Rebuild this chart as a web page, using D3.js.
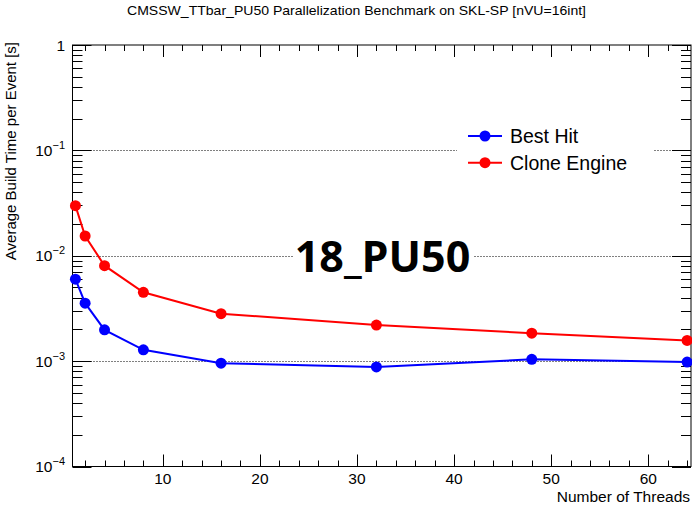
<!DOCTYPE html>
<html><head><meta charset="utf-8">
<script src="https://cdn.jsdelivr.net/npm/d3@7"></script>
<style>
body{margin:0;background:#fff;}
svg{display:block;font-family:"Liberation Sans",Arial,sans-serif;}
</style></head>
<body><svg id="c" width="692" height="505"></svg>
<script>
const threads = [1, 2, 4, 8, 16, 32, 48, 64];
const bestHit = [6.0e-3, 3.55e-3, 1.98e-3, 1.28e-3, 9.55e-4, 8.8e-4, 1.04e-3, 9.8e-4];
const cloneEngine = [2.99e-2, 1.54e-2, 8.05e-3, 4.5e-3, 2.82e-3, 2.2e-3, 1.84e-3, 1.57e-3];
const seriesNames = ["Best Hit", "Clone Engine"];
const seriesColors = ["#0000ff", "#ff0000"];
const xTicks = [10, 20, 30, 40, 50, 60];
const yDecades = [-4, -3, -2, -1, 0];
const title = "CMSSW_TTbar_PU50 Parallelization Benchmark on SKL-SP [nVU=16int]";
const annotation = "18_PU50";

const svg = d3.select("#c");
const L = 72.5, R = 691, T = 45, B = 466.5;
const x = d3.scaleLinear().domain([0.7, 64.4]).range([L, R]);
const y = d3.scaleLog().domain([1e-4, 1]).range([B, T]);

// grid
const grid = svg.append("g");
[1e-3, 1e-2, 1e-1].forEach(v => {
  const py = Math.round(y(v)) + 0.5;
  grid.append("line").attr("x1", L).attr("x2", R).attr("y1", py).attr("y2", py)
    .attr("stroke", "#000").attr("stroke-width", 1).attr("stroke-dasharray", "1,2");
});

// legend background
svg.append("rect").attr("x", 457).attr("y", 122).attr("width", 196).attr("height", 56).attr("fill", "#fff");

// frame
svg.append("rect").attr("x", L).attr("y", T).attr("width", R - L).attr("height", B - T)
  .attr("fill", "none").attr("stroke", "#000").attr("stroke-width", 1);

const ticks = svg.append("g").attr("stroke", "#000").attr("stroke-width", 1);
for (let v = 2; v <= 64; v += 2) {
  const major = v % 10 === 0;
  const len = major ? 12 : 6;
  const px = Math.round(x(v)) + 0.5;
  ticks.append("line").attr("x1", px).attr("x2", px).attr("y1", B).attr("y2", B - len);
  ticks.append("line").attr("x1", px).attr("x2", px).attr("y1", T).attr("y2", T + len);
}
yDecades.forEach(d => {
  for (let m = 1; m <= 9; m++) {
    const v = m * Math.pow(10, d);
    if (v > 1) break;
    const major = m === 1;
    const len = major ? 19 : 10;
    const py = Math.round(y(v)) + 0.5;
    ticks.append("line").attr("x1", L).attr("x2", L + len).attr("y1", py).attr("y2", py);
    ticks.append("line").attr("x1", R).attr("x2", R - len).attr("y1", py).attr("y2", py);
  }
});

// x tick labels
svg.append("g").selectAll("text").data(xTicks).join("text")
  .attr("x", d => x(d)).attr("y", 483.5).attr("text-anchor", "middle")
  .attr("font-size", 15.5).text(d => d);

// y tick labels
const yl = svg.append("g");
yDecades.forEach(d => {
  const t = yl.append("text").attr("x", 65).attr("y", y(Math.pow(10, d)) + 5.5)
    .attr("text-anchor", "end").attr("font-size", 15.5);
  if (d === 0) { t.text("1"); }
  else {
    t.append("tspan").text("10");
    t.append("tspan").attr("dy", -7).attr("font-size", 11).text("\u2212" + (-d));
  }
});

// axis titles
svg.append("text").attr("x", 690).attr("y", 501.5).attr("text-anchor", "end")
  .attr("font-size", 15.5).text("Number of Threads");
svg.append("text").attr("transform", "translate(16,42) rotate(-90)").attr("text-anchor", "end")
  .attr("font-size", 15).text("Average Build Time per Event [s]");
svg.append("text").attr("x", 127).attr("y", 15)
  .attr("font-size", 13.5).attr("textLength", 459).attr("lengthAdjust", "spacingAndGlyphs").text(title);

// annotation
const ann = svg.append("g");
ann.append("rect").attr("x", 293).attr("y", 240).attr("width", 180).attr("height", 32).attr("fill", "#fff");
ann.append("text").attr("x", 382.5).attr("y", 271.5).attr("text-anchor", "middle")
  .attr("font-family", "'Open Sans', sans-serif").attr("font-weight", "bold")
  .attr("font-size", 43).text(annotation);

// series
const series = [bestHit, cloneEngine];
const line = d3.line().x((d, i) => x(threads[i])).y(d => y(d));
series.forEach((vals, si) => {
  svg.append("path").datum(vals).attr("d", line).attr("fill", "none")
    .attr("stroke", seriesColors[si]).attr("stroke-width", 2);
  svg.append("g").selectAll("circle").data(vals).join("circle")
    .attr("cx", (d, i) => x(threads[i])).attr("cy", d => y(d)).attr("r", 5.5)
    .attr("fill", seriesColors[si]);
});

// legend
const legY = [136, 162.7];
seriesNames.forEach((n, i) => {
  svg.append("line").attr("x1", 468).attr("x2", 502).attr("y1", legY[i]).attr("y2", legY[i])
    .attr("stroke", seriesColors[i]).attr("stroke-width", 2);
  svg.append("circle").attr("cx", 485).attr("cy", legY[i]).attr("r", 5.5).attr("fill", seriesColors[i]);
  svg.append("text").attr("x", 510).attr("y", legY[i] + 7).attr("font-size", 19.5).text(n);
});
</script></body></html>
